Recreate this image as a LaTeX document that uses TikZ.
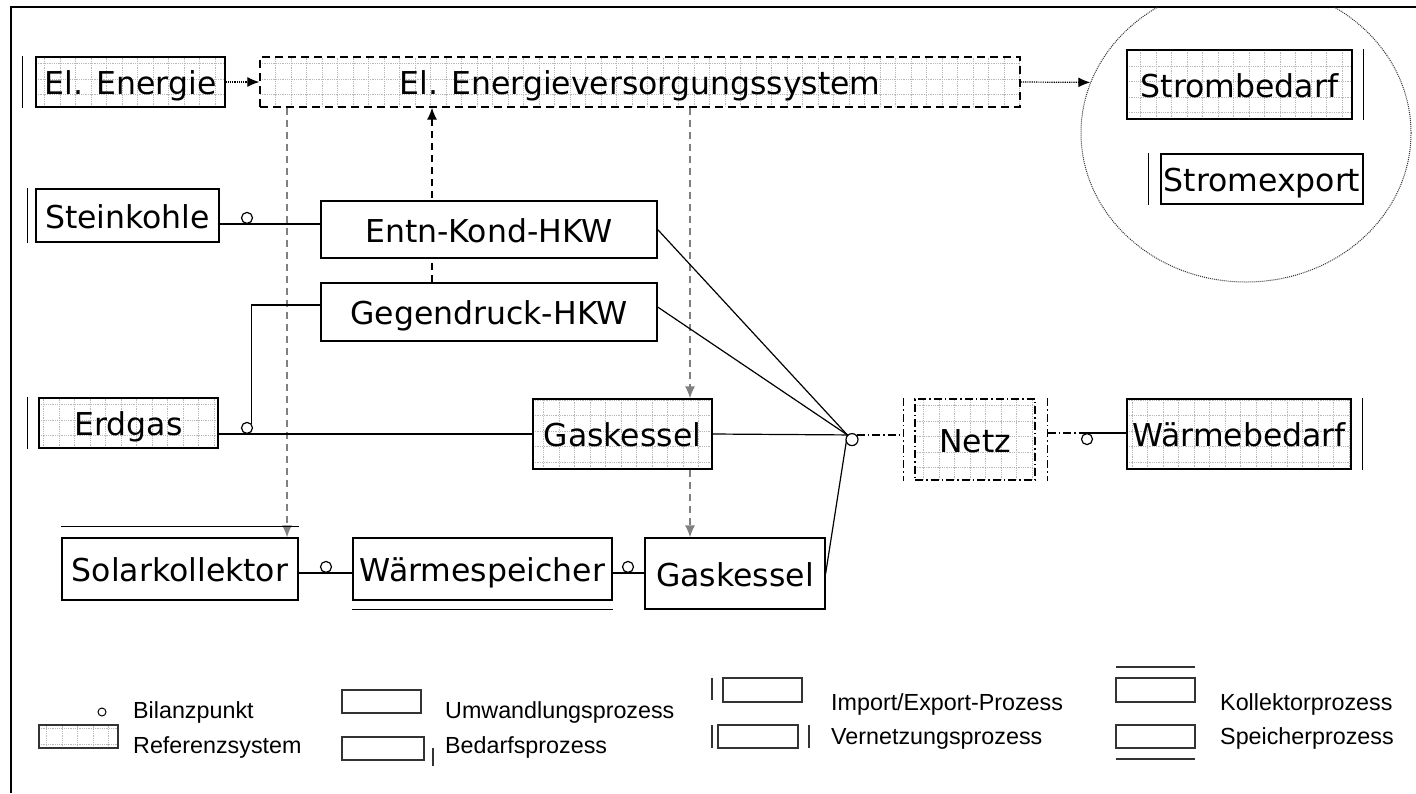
\documentclass[tikz,border=0pt]{standalone}
\usepackage{fontspec}
\setmainfont{DejaVu Sans}
\newfontfamily\legendfont{Liberation Sans}
\usepackage{tikz}
\usetikzlibrary{arrows.meta,shapes.geometric,backgrounds}
\tikzset{>={Latex[length=12pt,width=10pt]}}

\begin{document}
\begin{tikzpicture}[x=1pt, y=-1pt,
                    box/.style={draw, line width=1.3pt, fill=white, inner sep=1pt,
                                text height=25pt, text depth=0pt,
                                font=\fontsize{31.5pt}{36pt}\selectfont},
                    gridline/.style={gray!55, densely dotted, line width=0.8pt, step=15.5pt},
                    gridfill/.style={path picture={\draw[gridline] (path picture bounding box.south west) grid (path picture bounding box.north east);}},
                    refbox/.style={box, gridfill},
                    evsline/.style={dash pattern=on 8pt off 5pt},
                    bar/.style={line width=1.5pt},
                    link/.style={line width=1.2pt},
                    bp/.style={circle, draw, line width=1.2pt, fill=white, inner sep=0pt, minimum size=11pt},
                    elflow/.style={densely dotted, line width=1.2pt, ->},
                    ctrl/.style={dash pattern=on 7pt off 5pt, line width=1.3pt, ->},
                    feed/.style={gray, dash pattern=on 7pt off 5pt, line width=1.3pt, ->},
                    netline/.style={line width=1.2pt, dash pattern=on 8pt off 3pt on 1.5pt off 3pt},
                    legbox/.style={line width=1.1pt, black!80},
                    legtext/.style={font=\legendfont\fontsize{23.3pt}{28pt}\selectfont, anchor=base west, inner sep=0pt},
                   ]

\useasboundingbox (0,0) rectangle (1416,793);

% Rahmen
\draw[line width=2pt] (10.5,793) -- (10.5,7) -- (1416,7);

% Stromseite
\begin{scope}
\clip (0,7) rectangle (1416,793);
\node[ellipse, draw, black!80, densely dotted, line width=1pt, minimum width=330pt, minimum height=298pt] (stromkreis) at (1246,133) {};
\end{scope}

\node[refbox, minimum width=189pt, minimum height=50pt] (elimp) at (130.5,82) {El. Energie};
\node[refbox, evsline, minimum width=760pt, minimum height=50pt] (evs) at (640,82) {El. Energieversorgungssystem};
\node[refbox, minimum width=225pt, minimum height=69pt] (strombedarf) at (1239.5,84.5) {Strombedarf};
\node[box, minimum width=202pt, minimum height=50pt] (stromexport) at (1262,179) {Stromexport};

% Prozesse
\node[box, minimum width=183pt, minimum height=53pt] (steinkohle) at (127.5,215.5) {Steinkohle};
\node[box, minimum width=336pt, minimum height=57pt] (entn) at (489,229.5) {Entn-Kond-HKW};
\node[box, minimum width=336pt, minimum height=58pt] (gegen) at (489,312) {Gegendruck-HKW};
\node[refbox, minimum width=179pt, minimum height=50pt] (erdgas) at (128.5,423) {Erdgas};
\node[refbox, minimum width=179pt, minimum height=70pt] (gk1) at (622.5,434) {Gaskessel};
\node[box, minimum width=236pt, minimum height=62pt] (solar) at (180,569) {Solarkollektor};
\node[box, minimum width=259pt, minimum height=62pt] (speicher) at (482.5,569) {Wärmespeicher};
\node[box, minimum width=180pt, minimum height=71pt] (gk2) at (735,573.5) {Gaskessel};
\node[refbox, netline, minimum width=120pt, minimum height=81pt] (netz) at (975,439.5) {Netz};
\node[refbox, minimum width=224pt, minimum height=70pt] (waermebedarf) at (1239,434) {Wärmebedarf};

% Bilanzpunkte
\node[bp, anchor=south] (bp1) at (247,224) {};
\node[bp, anchor=south] (bp2) at (247,434) {};
\node[bp, anchor=south] (bp3) at (326,573) {};
\node[bp, anchor=south] (bp4) at (628,573) {};
\node[bp, minimum size=12pt, anchor=north] (hub) at (852,433) {};
\node[bp, anchor=north] (bp5) at (1087,433) {};

% Import-, Export- und Bedarfsstriche
\draw[bar] ([xshift=-13pt]elimp.north west) -- ([xshift=-13pt]elimp.south west);
\draw[bar] ([xshift=-8pt]steinkohle.north west) -- ([xshift=-8pt]steinkohle.south west);
\draw[bar] ([xshift=-11pt]erdgas.north west) -- ([xshift=-11pt]erdgas.south west);
\draw[bar] ([xshift=-12pt]stromexport.north west) -- ([xshift=-12pt]stromexport.south west);
\draw[bar] ([xshift=11pt]strombedarf.north east) -- ([xshift=11pt]strombedarf.south east);
\draw[bar] ([xshift=11pt]waermebedarf.north east) -- ([xshift=11pt]waermebedarf.south east);
\draw[bar] ([yshift=11pt]solar.north west) -- ([yshift=11pt]solar.north east);
\draw[bar] ([yshift=-9pt]speicher.south west) -- ([yshift=-9pt]speicher.south east);
\coordinate (netzL) at ([xshift=-11pt]netz.west);
\coordinate (netzR) at ([xshift=12pt]netz.east);
\draw[netline] ([xshift=-11pt]netz.north west) -- ([xshift=-11pt]netz.south west);
\draw[netline] ([xshift=12pt]netz.north east) -- ([xshift=12pt]netz.south east);

\begin{pgfonlayer}{background}
\draw[elflow] (elimp) -- (evs);
\draw[elflow] (evs.east) -- (stromkreis.162);
\draw[ctrl] ([xshift=-57pt]gegen.north) -- ([xshift=-57pt]gegen.north |- evs.south);
\draw[feed] ([xshift=107pt]solar.north |- evs.south) -- ([xshift=107pt]solar.north);
\draw[feed] ([xshift=67.5pt]gk1.north |- evs.south) -- ([xshift=67.5pt]gk1.north);
\draw[feed] ([xshift=67.5pt]gk1.south) -- ([xshift=-45pt]gk2.north);

\draw[link] (steinkohle.east |- bp1.south) -- (entn.west |- bp1.south);
\draw[link] (erdgas.east |- bp2.south) -- (gk1.west);
\draw[link] (bp2.45) |- ([yshift=7pt]gegen.west);
\draw[link] (solar.east |- bp3.south) -- (speicher.west |- bp3.south);
\draw[link] (speicher.east |- bp4.south) -- (gk2.west |- bp4.south);
\draw[link] (gk1.east) -- (hub.north west);
\draw[link] (entn.east) -- (hub.north west);
\draw[link] ([yshift=5pt]gegen.east) -- (hub.north west);
\draw[link] (gk2.east) -- (hub.north west);
\draw[netline] (hub.north east) -- (hub.north east -| netzL);
\draw[netline] (netzR |- bp5.north) -- (bp5.north);
\draw[link] (bp5.north) -- (waermebedarf.west |- bp5.north);
\end{pgfonlayer}

% Legende
\node[bp, minimum size=8pt, line width=1pt] (legbp) at (102,712) {};
\node[legtext] (legbptext) at (133,718) {Bilanzpunkt};
\draw[legbox, gridfill] (39,725) rectangle (118,748);
\node[legtext] (legref) at (133,753) {Referenzsystem};
\draw[legbox] (342,690) rectangle (421,713);
\node[legtext] (legumw) at (445,718) {Umwandlungsprozess};
\draw[legbox] (342,737) rectangle (424,760);
\draw[legbox] (433,748) -- (433,766);
\node[legtext] (legbed) at (445,753) {Bedarfsprozess};
\draw[legbox] (712,678) -- (712,700);
\draw[legbox] (723,678) rectangle (802,702);
\node[legtext] (legimp) at (831,710) {Import/Export-Prozess};
\draw[legbox] (712,725) -- (712,748);
\draw[legbox] (718,725) rectangle (798,748);
\draw[legbox] (809,725) -- (809,748);
\node[legtext] (legvern) at (831,744) {Vernetzungsprozess};
\draw[legbox] (1116,667) -- (1195,667);
\draw[legbox] (1116,678) rectangle (1195,702);
\node[legtext] (legkol) at (1220,710) {Kollektorprozess};
\draw[legbox] (1116,725) rectangle (1195,748);
\draw[legbox] (1116,759) -- (1195,759);
\node[legtext] (legspe) at (1220,744) {Speicherprozess};

\end{tikzpicture}
\end{document}
